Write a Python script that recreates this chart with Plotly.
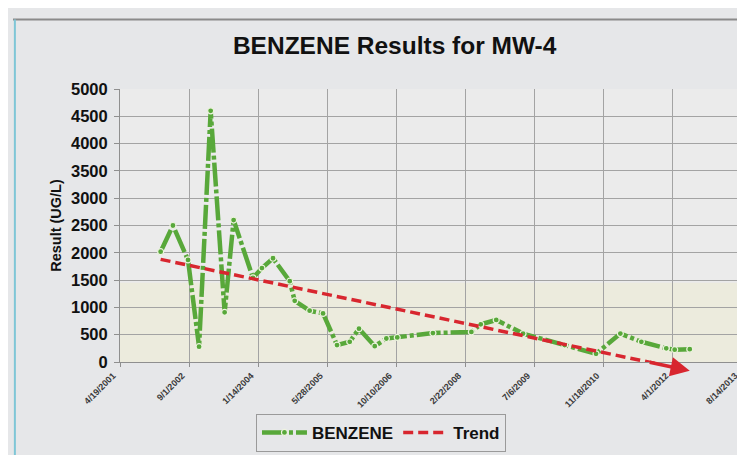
import plotly.graph_objects as go

# ---- data ----
benzene_dates = [
    "2002-02-07", "2002-05-07", "2002-08-24", "2002-11-12", "2003-02-04",
    "2003-05-16", "2003-07-20", "2003-12-07", "2004-02-10", "2004-04-30",
    "2004-08-29", "2004-10-04", "2005-01-20", "2005-04-27", "2005-08-06",
    "2005-11-06", "2006-01-12", "2006-05-06", "2006-07-29", "2006-10-16",
    "2007-07-01", "2008-04-04", "2008-06-11", "2008-10-01", "2009-04-13",
    "2010-02-08", "2010-09-23", "2011-03-18", "2011-08-17", "2012-02-13",
    "2012-04-14", "2012-08-01",
]
benzene_values = [
    2020, 2500, 1870, 280, 4600,
    910, 2600, 1540, 1720, 1900,
    1480, 1120, 940, 890, 310,
    370, 610, 290, 430, 450,
    530, 550, 690, 770, 520,
    310, 150, 520, 370, 250,
    225, 235,
]

trend_dates = ["2002-02-07", "2012-08-01"]
trend_values = [1880, -160]
trend_arrow_tail_date = "2011-10-05"
trend_arrow_tail_value = 0

x_tick_dates = ["2001-04-19", "2002-09-01", "2004-01-14", "2005-05-28", "2006-10-10",
                "2008-02-22", "2009-07-06", "2010-11-18", "2012-04-01", "2013-08-14"]
x_tick_labels = ["4/19/2001", "9/1/2002", "1/14/2004", "5/28/2005", "10/10/2006",
                 "2/22/2008", "7/6/2009", "11/18/2010", "4/1/2012", "8/14/2013"]
y_tick_values = [0, 500, 1000, 1500, 2000, 2500, 3000, 3500, 4000, 4500, 5000]

GREEN = "#58a83a"
RED = "#d8262f"
PAPER = "#e6e7e9"
PLOT = "#ebebeb"
GRID = "#a3a3a3"
FONT = "Liberation Sans"

fig = go.Figure()
fig.add_trace(go.Scatter(
    x=benzene_dates, y=benzene_values, name="BENZENE", mode="lines+markers",
    line=dict(color=GREEN, width=4.5, dash="24px,3px,4px,3px"),
    marker=dict(size=6, color=GREEN, line=dict(color="#eef3e0", width=1.2)),
))
fig.add_trace(go.Scatter(
    x=trend_dates, y=trend_values, name="Trend", mode="lines",
    line=dict(color=RED, width=3.5, dash="10px,5px"),
))

fig.add_annotation(
    x=trend_dates[-1], y=trend_values[-1], xref="x", yref="y",
    ax=trend_arrow_tail_date, ay=trend_arrow_tail_value, axref="x", ayref="y",
    showarrow=True, arrowhead=2, arrowsize=1.1, arrowwidth=3.5, arrowcolor=RED, text="",
)

shapes = [
    # faint yellow highlight band from the scanned page
    dict(type="rect", xref="paper", yref="paper", x0=0, x1=1, y0=0, y1=0.29,
         fillcolor="rgba(240,236,185,0.28)", line=dict(width=0), layer="below"),
    # chart frame edges of the scan
    dict(type="line", xref="paper", yref="paper", x0=-0.172, x1=1.02, y0=1.255, y1=1.255,
         line=dict(color="#8a8a8a", width=2)),
    dict(type="line", xref="paper", yref="paper", x0=-0.169, x1=-0.169, y0=1.255, y1=-0.35,
         line=dict(color="#7fc6d6", width=2)),
]

fig.update_layout(
    width=745, height=455,
    margin=dict(l=112, r=11, t=81, b=96),
    paper_bgcolor=PAPER, plot_bgcolor=PLOT,
    font=dict(family=FONT, color="#111111"),
    title=dict(text="BENZENE Results for MW-4", xref="container", x=0.519, xanchor="center",
               yref="container", y=0.918, yanchor="middle",
               font=dict(family=FONT, size=24.5, weight="bold", color="#111111")),
    showlegend=True,
    legend=dict(orientation="h", x=0.2186, xanchor="left", y=-0.19, yanchor="top",
                bgcolor=PAPER, bordercolor="#9a9a9a", borderwidth=1,
                font=dict(family=FONT, size=17, weight="bold", color="#111111"),
                itemwidth=45),
    shapes=shapes,
)
fig.update_xaxes(
    type="date", range=[x_tick_dates[0], x_tick_dates[-1]], automargin=False,
    tickmode="array", tickvals=x_tick_dates, ticktext=x_tick_labels, tickangle=-45,
    ticklabelshift=-7,
    tickfont=dict(family=FONT, size=9, weight="bold", color="#3a3a3a"),
    showgrid=True, gridcolor=GRID, gridwidth=1,
    showline=True, linecolor="#8f8f8f", linewidth=1,
    ticks="outside", ticklen=4, tickcolor="#8f8f8f", zeroline=False,
)
fig.update_yaxes(
    range=[0, 5000], tickmode="array", tickvals=y_tick_values, automargin=False,
    ticklabelstandoff=3,
    tickfont=dict(family=FONT, size=16.5, weight="bold", color="#111111"),
    title=dict(text="Result (UG/L)", standoff=5,
               font=dict(family=FONT, size=14.5, weight="bold", color="#111111")),
    showgrid=True, gridcolor=GRID, gridwidth=1,
    showline=True, linecolor="#8f8f8f", linewidth=1,
    ticks="outside", ticklen=5, tickcolor="#8f8f8f", zeroline=False,
)

fig.write_html("out.html")
